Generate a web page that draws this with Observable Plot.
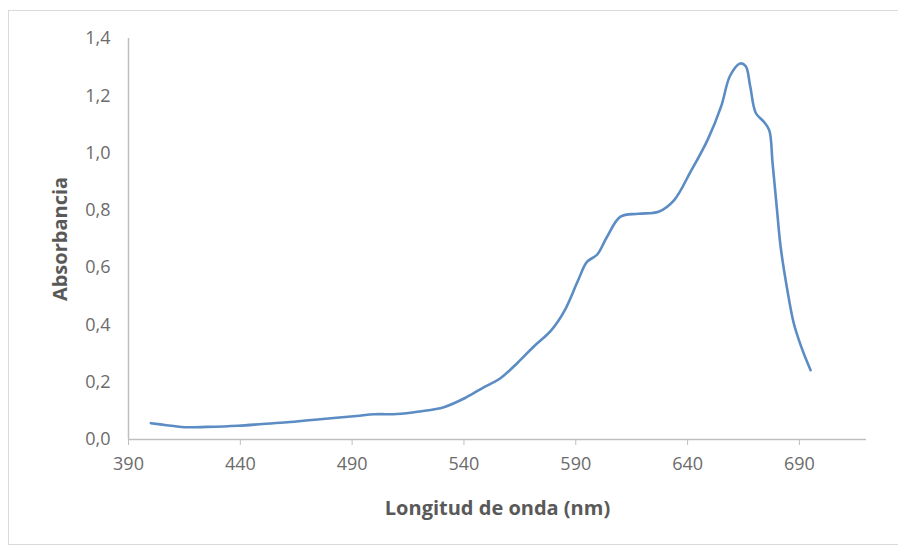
<!DOCTYPE html>
<html>
<head>
<meta charset="utf-8">
<script src="https://cdn.jsdelivr.net/npm/d3@7"></script>
<script src="https://cdn.jsdelivr.net/npm/@observablehq/plot@0.6"></script>
<style>
  html, body { margin: 0; padding: 0; background: #fff; }
  #wrap { position: relative; width: 898px; height: 548px; overflow: hidden; }
  #frame { position: absolute; left: 8px; top: 10px; width: 896px; height: 535px; border: 1px solid #d9d9d9; box-sizing: border-box; }
  #chart { position: absolute; left: 0; top: 0; }
  #chart svg { font-family: "Open Sans", "Noto Sans", sans-serif; }
  g[aria-label="x-axis label"] text, g[aria-label="y-axis label"] text { font-weight: bold; font-size: 20px; fill: #595959; }
</style>
</head>
<body>
<div id="wrap">
  <div id="frame"></div>
  <div id="chart"></div>
</div>
<script>
const wavelength = [400, 407, 415, 425, 439, 450, 461, 472, 483, 492, 500, 510, 520, 531, 541, 549, 556, 564, 571, 579, 585, 591, 595, 599.5, 604, 610, 618, 627, 634, 641, 649, 655, 659, 663.5, 666, 668, 670.5, 674, 676.5, 678, 680, 681.6, 684.6, 687.5, 691, 695];
const absorbance = [0.057, 0.050, 0.043, 0.044, 0.048, 0.054, 0.060, 0.068, 0.076, 0.082, 0.088, 0.089, 0.098, 0.113, 0.147, 0.183, 0.212, 0.268, 0.323, 0.381, 0.45, 0.555, 0.62, 0.645, 0.708, 0.778, 0.788, 0.795, 0.836, 0.93, 1.047, 1.163, 1.27, 1.313, 1.303, 1.233, 1.14, 1.11, 1.08, 0.965, 0.80, 0.673, 0.522, 0.405, 0.32, 0.242];
const xTicks = [390, 440, 490, 540, 590, 640, 690];
const yTicks = [0, 0.2, 0.4, 0.6, 0.8, 1.0, 1.2, 1.4];

const data = wavelength.map((w, i) => ({w, a: absorbance[i]}));
const fmt = v => v.toFixed(1).replace(".", ",");

const chart = Plot.plot({
  width: 898,
  height: 548,
  marginLeft: 128,
  marginRight: 32,
  marginTop: 38,
  marginBottom: 109,
  style: {background: "transparent", fontSize: "18px", color: "#595959"},
  x: {domain: [390, 720]},
  y: {domain: [0, 1.4]},
  marks: [
    Plot.ruleX([390], {y1: 0, y2: 1.4, stroke: "#bfbfbf", strokeWidth: 1.5}),
    Plot.ruleY([0], {x1: 390, x2: 720, stroke: "#bfbfbf", strokeWidth: 1.5}),
    Plot.axisX({ticks: xTicks, tickSize: 6, tickPadding: 12, stroke: "#bfbfbf", fill: "#6b6b6b", fontSize: 18,
      label: "Longitud de onda (nm)", labelAnchor: "center", labelArrow: false, labelOffset: 75}),
    Plot.axisY({ticks: yTicks, tickSize: 0, tickPadding: 18, tickFormat: fmt, fill: "#6b6b6b", fontSize: 18,
      label: "Absorbancia", labelAnchor: "center", labelArrow: false, labelOffset: 76}),
    Plot.line(data, {x: "w", y: "a", stroke: "#5b8cc4", strokeWidth: 2.6, curve: "catmull-rom"})
  ]
});
document.getElementById("chart").appendChild(chart);
</script>
</body>
</html>
